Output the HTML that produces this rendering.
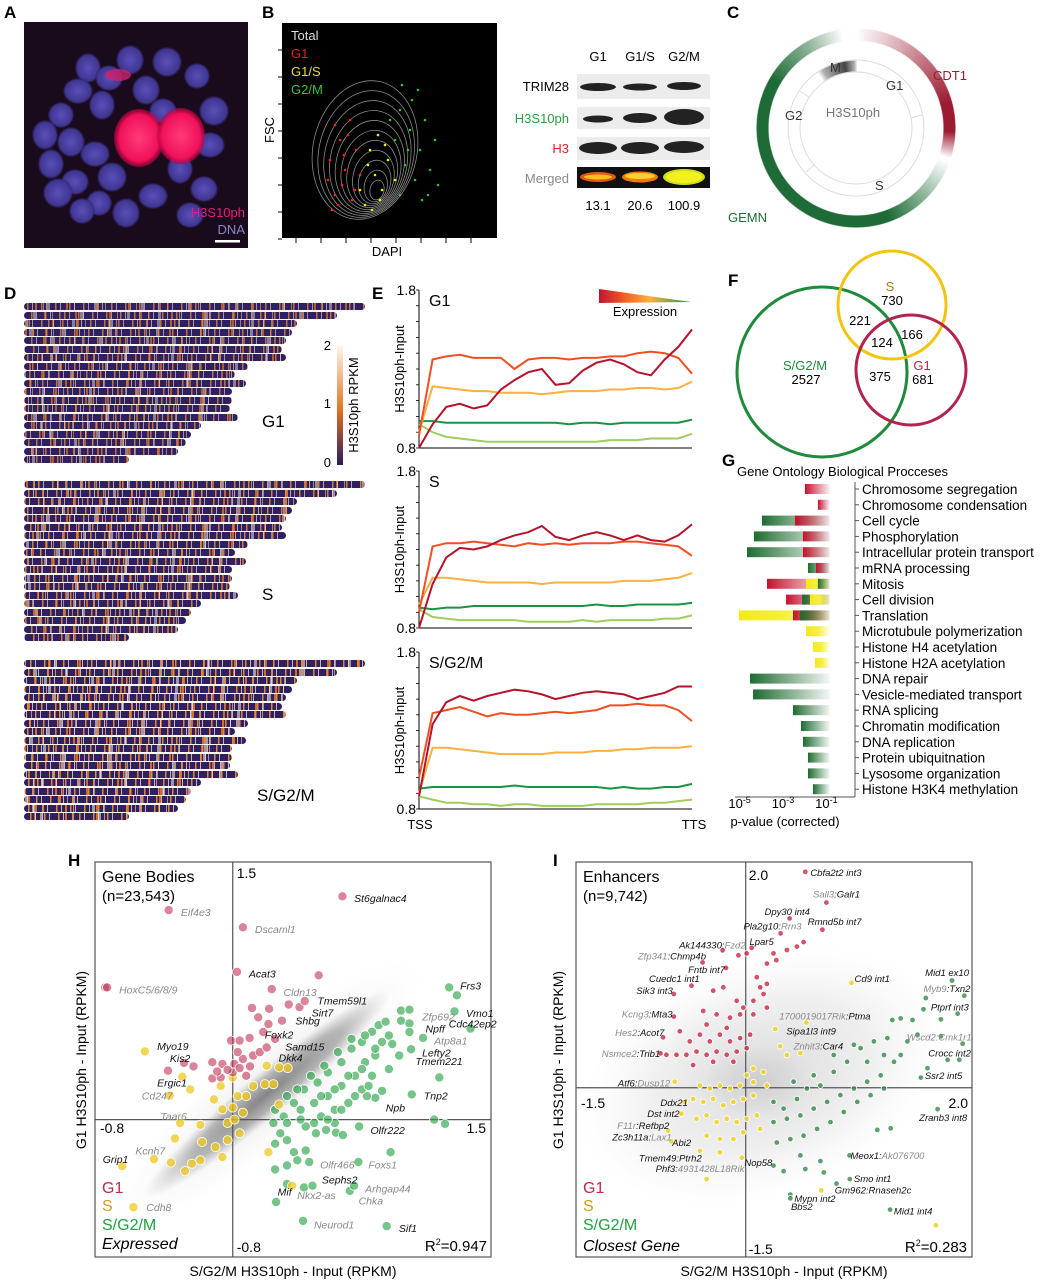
<!DOCTYPE html>
<html><head><meta charset="utf-8">
<style>
html,body{margin:0;padding:0;background:#fff;}
body{width:1055px;height:1280px;position:relative;overflow:hidden;font-family:"Liberation Sans",Arial,sans-serif;}
#main{position:absolute;left:0;top:0;}
.chr{position:absolute;height:7px;border-radius:3.5px;}
.ring{position:absolute;border-radius:50%;}
</style></head>
<body>
<div id="ring-c" class="ring" style="left:756px;top:28px;width:200px;height:200px;background:conic-gradient(from 0deg, rgba(255,255,255,0) 0deg, rgba(155,27,48,0.15) 12deg, rgba(155,27,48,0.6) 45deg, #9b1b30 75deg, #9b1b30 92deg, rgba(155,27,48,0) 108deg, rgba(30,107,55,0) 110deg, rgba(30,107,55,0.5) 135deg, #1e6b37 160deg, #1e6b37 300deg, rgba(30,107,55,0.5) 330deg, rgba(30,107,55,0) 352deg);-webkit-mask:radial-gradient(circle, transparent 87px, #000 88px, #000 99px, transparent 100px);mask:radial-gradient(circle, transparent 87px, #000 88px, #000 99px, transparent 100px);"></div>
<div id="ring-m" class="ring" style="left:788px;top:60px;width:136px;height:136px;background:conic-gradient(from -35deg, rgba(60,60,60,0) 0deg, rgba(60,60,60,0.4) 5deg, #444 25deg, rgba(60,60,60,0.3) 35deg, rgba(0,0,0,0) 36deg);-webkit-mask:radial-gradient(circle, transparent 56px, #000 57px, #000 67px, transparent 68px);mask:radial-gradient(circle, transparent 56px, #000 57px, #000 67px, transparent 68px);"></div>
<div id="dpanel"></div>
<svg id="main" width="1055" height="1280" xmlns="http://www.w3.org/2000/svg" font-family="Liberation Sans, Arial, sans-serif">
<defs>
 <radialGradient id="cloudH" cx="50%" cy="50%" r="50%"><stop offset="0" stop-color="#7a7a7a" stop-opacity="0.9"/><stop offset="0.6" stop-color="#8c8c8c" stop-opacity="0.6"/><stop offset="1" stop-color="#aaa" stop-opacity="0"/></radialGradient>
 <radialGradient id="cloudH2" cx="50%" cy="50%" r="50%"><stop offset="0" stop-color="#c4c4c4" stop-opacity="0.45"/><stop offset="1" stop-color="#e4e4e4" stop-opacity="0"/></radialGradient>
 <radialGradient id="cloudI" cx="50%" cy="50%" r="50%"><stop offset="0" stop-color="#c8c8c8" stop-opacity="0.7"/><stop offset="0.6" stop-color="#d8d8d8" stop-opacity="0.4"/><stop offset="1" stop-color="#eee" stop-opacity="0"/></radialGradient>
 <linearGradient id="gRed" x1="0" x2="1"><stop offset="0" stop-color="#c4122f"/><stop offset="1" stop-color="#c4122f" stop-opacity="0.05"/></linearGradient>
 <linearGradient id="gYel" x1="0" x2="1"><stop offset="0" stop-color="#f2ea1c"/><stop offset="0.5" stop-color="#f6ef40"/><stop offset="1" stop-color="#f6ef40" stop-opacity="0.1"/></linearGradient>
 <linearGradient id="gGrn" x1="0" x2="1"><stop offset="0" stop-color="#1e6b30"/><stop offset="1" stop-color="#1e6b30" stop-opacity="0.05"/></linearGradient>
 <linearGradient id="exprGrad" x1="0" x2="1"><stop offset="0" stop-color="#c4122f"/><stop offset="0.3" stop-color="#f26522"/><stop offset="0.55" stop-color="#fbb040"/><stop offset="1" stop-color="#1a9444"/></linearGradient>
 <linearGradient id="cbar" x1="0" x2="0" y1="1" y2="0"><stop offset="0" stop-color="#2a1a5e"/><stop offset="0.45" stop-color="#e0701e"/><stop offset="1" stop-color="#fff8f0"/></linearGradient>
 <radialGradient id="redBlob" cx="50%" cy="50%" r="50%"><stop offset="0" stop-color="#ff3c78"/><stop offset="0.8" stop-color="#f0105a"/><stop offset="1" stop-color="#c00040" stop-opacity="0.6"/></radialGradient>
 <radialGradient id="nuc" cx="50%" cy="50%" r="50%"><stop offset="0" stop-color="#5a4fb8"/><stop offset="0.85" stop-color="#3f3590"/><stop offset="1" stop-color="#2a2060" stop-opacity="0.3"/></radialGradient>
</defs>

<g font-weight="bold" font-size="17" fill="#000">
 <text x="4" y="18">A</text>
 <text x="262" y="18">B</text>
 <text x="727" y="18">C</text>
 <text x="4" y="299">D</text>
 <text x="372" y="299">E</text>
 <text x="728" y="286">F</text>
 <text x="722" y="466">G</text>
 <text x="68" y="866">H</text>
 <text x="553" y="866">I</text>
</g>

<g id="panelA">
 <rect x="24" y="22" width="224" height="226" fill="#1a0b1c"/>
 <g id="nuclei"></g>
 <ellipse cx="139" cy="138" rx="25" ry="29" fill="url(#redBlob)"/>
 <ellipse cx="181" cy="136" rx="24" ry="28" fill="url(#redBlob)"/>
 <ellipse cx="118" cy="75" rx="13" ry="6" fill="#d0206a" opacity="0.8"/>
 <text x="245" y="217" text-anchor="end" font-size="13" fill="#e0207a">H3S10ph</text>
 <text x="245" y="234" text-anchor="end" font-size="13" fill="#8a86c8">DNA</text>
 <rect x="215" y="240" width="25" height="2.5" fill="#fff"/>
</g>

<g id="panelB">
 <rect x="282" y="23" width="215" height="215" fill="#000"/>
 <g id="contours" fill="none" stroke="#8a8a8a" stroke-width="0.8"></g>
 <g id="flowPts"></g>
 <text x="291" y="40" font-size="13" fill="#ddd">Total</text>
 <text x="291" y="58" font-size="13" fill="#e02020">G1</text>
 <text x="291" y="76" font-size="13" fill="#e8e020">G1/S</text>
 <text x="291" y="94" font-size="13" fill="#3cc040">G2/M</text>
 <g id="bticks" stroke="#000" stroke-width="1"></g>
 <text x="274" y="130" font-size="13" transform="rotate(-90 274 130)" text-anchor="middle">FSC</text>
 <text x="387" y="256" font-size="13" text-anchor="middle">DAPI</text>
</g>

<g id="blot">
 <g font-size="13" text-anchor="middle"><text x="598" y="61">G1</text><text x="640" y="61">G1/S</text><text x="684" y="61">G2/M</text></g>
 <rect x="577" y="74" width="133" height="25" fill="#ececec"/>
 <rect x="577" y="107" width="133" height="22" fill="#ececec"/>
 <rect x="577" y="137" width="133" height="23" fill="#ececec"/>
 <rect x="577" y="167" width="133" height="21" fill="#111"/>
 <g fill="#222">
  <ellipse cx="598" cy="87" rx="18" ry="4"/><ellipse cx="640" cy="87" rx="17" ry="3.5"/><ellipse cx="684" cy="86" rx="17" ry="4"/>
  <ellipse cx="598" cy="119" rx="15" ry="3.5"/><ellipse cx="640" cy="118" rx="17" ry="5"/><ellipse cx="684" cy="117" rx="20" ry="8"/>
  <ellipse cx="598" cy="148" rx="19" ry="6"/><ellipse cx="640" cy="148" rx="19" ry="6"/><ellipse cx="684" cy="147" rx="20" ry="6"/>
 </g>
 <ellipse cx="598" cy="177" rx="18" ry="5" fill="#e55a10"/><ellipse cx="598" cy="177" rx="14" ry="2.5" fill="#f7c020"/>
 <ellipse cx="640" cy="177" rx="18" ry="5.5" fill="#f07a10"/><ellipse cx="640" cy="176" rx="15" ry="3" fill="#ffd030"/>
 <ellipse cx="684" cy="177" rx="21" ry="8" fill="#c8e020"/><ellipse cx="684" cy="177" rx="18" ry="6" fill="#f4f020"/>
 <g font-size="13" text-anchor="end">
  <text x="569" y="91">TRIM28</text>
  <text x="569" y="123" fill="#2aa040">H3S10ph</text>
  <text x="569" y="153" fill="#e02020">H3</text>
  <text x="569" y="183" fill="#888">Merged</text>
 </g>
 <g font-size="13" text-anchor="middle"><text x="598" y="210">13.1</text><text x="640" y="210">20.6</text><text x="684" y="210">100.9</text></g>
</g>

<g id="panelC">
 <circle cx="856" cy="128" r="68" fill="none" stroke="#ddd" stroke-width="1"/>
 <circle cx="856" cy="128" r="56" fill="none" stroke="#ddd" stroke-width="1"/>
 <g stroke="#ddd" stroke-width="1">
  <line x1="856" y1="60" x2="856" y2="72"/><line x1="922" y1="115" x2="911" y2="118"/>
  <line x1="806" y1="172" x2="815" y2="164"/><line x1="800" y1="91" x2="810" y2="98"/>
 </g>
 <g font-size="13" fill="#333">
  <text x="830" y="72">M</text><text x="886" y="90">G1</text><text x="785" y="120">G2</text><text x="875" y="190">S</text>
 </g>
 <text x="853" y="117" font-size="13" fill="#777" text-anchor="middle">H3S10ph</text>
 <text x="933" y="80" font-size="13" fill="#9b1b30">CDT1</text>
 <text x="728" y="222" font-size="13" fill="#1e6b37">GEMN</text>
</g>

<g id="dlegend">
 <rect x="337" y="345" width="6" height="120" fill="url(#cbar)"/>
 <g font-size="13" text-anchor="end"><text x="331" y="350">2</text><text x="331" y="408">1</text><text x="331" y="467">0</text></g>
 <text x="358" y="405" font-size="13" text-anchor="middle" transform="rotate(-90 358 405)">H3S10ph RPKM</text>
 <text x="262" y="427" font-size="17">G1</text>
 <text x="262" y="600" font-size="17">S</text>
 <text x="257" y="801" font-size="17">S/G2/M</text>
</g>

<g id="panelE"></g>
<g id="panelF">
 <circle cx="822" cy="372" r="85" fill="none" stroke="#1e8a3a" stroke-width="3"/>
 <circle cx="892" cy="305" r="54" fill="none" stroke="#f2c40f" stroke-width="3"/>
 <circle cx="911" cy="370" r="55" fill="none" stroke="#b2234d" stroke-width="3"/>
 <g font-size="13" text-anchor="middle">
  <text x="890" y="291" fill="#a87a18">S</text><text x="892" y="305">730</text>
  <text x="860" y="325">221</text><text x="882" y="347">124</text><text x="912" y="339">166</text>
  <text x="805" y="370" fill="#1e8a3a">S/G2/M</text><text x="806" y="384">2527</text>
  <text x="880" y="381">375</text>
  <text x="922" y="370" fill="#b2234d">G1</text><text x="923" y="384">681</text>
 </g>
</g>
<g id="panelG"></g>
<g id="panelH"></g>
<g id="panelI"></g>
</svg>

<script>
const eTicks = [0.8, 1.8];
const eCharts = ["G1", "S", "S/G2/M"];
const g1DarkRed = [0.8,0.95,1.06,1.08,1.05,1.07,1.17,1.23,1.28,1.30,1.20,1.21,1.29,1.34,1.36,1.33,1.28,1.26,1.36,1.44,1.55];
const g1Orange = [0.88,1.36,1.38,1.39,1.37,1.37,1.37,1.30,1.36,1.37,1.37,1.36,1.37,1.37,1.38,1.38,1.40,1.41,1.40,1.37,1.27];
const g1LtOrange = [0.9,1.19,1.18,1.17,1.16,1.16,1.15,1.15,1.15,1.14,1.15,1.16,1.16,1.16,1.17,1.17,1.18,1.18,1.17,1.18,1.22];
const g1Green = [0.97,0.97,0.96,0.96,0.96,0.96,0.96,0.96,0.96,0.96,0.96,0.95,0.96,0.96,0.95,0.96,0.96,0.96,0.96,0.96,0.98];
const g1LtGreen = [0.95,0.90,0.87,0.86,0.85,0.84,0.84,0.84,0.84,0.84,0.84,0.84,0.84,0.84,0.85,0.85,0.85,0.86,0.86,0.86,0.89];
const sDarkRed = [0.8,1.08,1.25,1.31,1.30,1.32,1.36,1.39,1.41,1.45,1.38,1.36,1.39,1.41,1.39,1.36,1.39,1.36,1.35,1.39,1.46];
const sOrange = [0.9,1.32,1.34,1.34,1.35,1.34,1.33,1.32,1.34,1.33,1.34,1.33,1.34,1.34,1.34,1.35,1.35,1.34,1.33,1.32,1.26];
const sLtOrange = [0.95,1.12,1.12,1.11,1.10,1.09,1.09,1.09,1.09,1.08,1.09,1.09,1.09,1.09,1.09,1.10,1.10,1.10,1.11,1.12,1.15];
const sGreen = [0.93,0.92,0.93,0.93,0.94,0.94,0.94,0.94,0.94,0.94,0.94,0.94,0.94,0.95,0.94,0.94,0.95,0.95,0.95,0.95,0.96];
const sLtGreen = [0.92,0.87,0.86,0.85,0.85,0.85,0.85,0.85,0.84,0.84,0.84,0.84,0.85,0.84,0.85,0.85,0.85,0.85,0.86,0.86,0.88];
const mDarkRed = [0.88,1.34,1.48,1.52,1.49,1.52,1.54,1.56,1.55,1.53,1.50,1.52,1.54,1.55,1.54,1.53,1.50,1.52,1.54,1.58,1.58];
const mOrange = [1.0,1.41,1.43,1.45,1.42,1.39,1.41,1.40,1.40,1.41,1.42,1.41,1.42,1.43,1.46,1.46,1.47,1.46,1.46,1.43,1.36];
const mLtOrange = [0.9,1.19,1.19,1.18,1.17,1.16,1.15,1.15,1.15,1.15,1.16,1.16,1.16,1.17,1.17,1.18,1.18,1.19,1.19,1.19,1.2];
const mGreen = [0.93,0.94,0.94,0.94,0.94,0.94,0.94,0.95,0.94,0.94,0.94,0.94,0.94,0.94,0.93,0.94,0.93,0.93,0.94,0.94,0.96];
const mLtGreen = [0.88,0.86,0.84,0.84,0.83,0.83,0.82,0.83,0.83,0.82,0.82,0.82,0.82,0.83,0.83,0.83,0.83,0.84,0.84,0.85,0.86];

const goTerms = ["Chromosome segregation","Chromosome condensation","Cell cycle","Phosphorylation","Intracellular protein transport","mRNA processing","Mitosis","Cell division","Translation","Microtubule polymerization","Histone H4 acetylation","Histone H2A acetylation","DNA repair","Vesicle-mediated transport","RNA splicing","Chromatin modification","DNA replication","Protein ubiquitnation","Lysosome organization","Histone H3K4 methylation"];
const goG1 = [-1.99,-1.39,-2.45,-2.08,-2.08,-1.48,-3.74,-2.86,-2.54,null,null,null,null,null,null,null,null,null,null,null];
const goS = [null,null,null,null,null,null,-1.94,-1.76,-5.03,-1.94,-1.62,-1.53,null,null,null,null,null,null,null,null];
const goSG2M = [null,null,-3.97,-4.34,-4.66,-1.85,-1.39,-2.12,-2.22,null,null,null,-4.52,-4.38,-2.54,-2.17,-2.08,-1.85,-1.85,-1.62];
const goTickLabels = ["-5","-3","-1"];

const hTicks = [-0.8, 1.5];
const hG1 = [[0.637,1.30],[-0.372,1.22],[0.059,1.12],[0.025,0.86],[0.499,0.84],[-0.741,0.77],[-0.73,0.77],[0.226,0.76],[0.325,0.67],[0.388,0.655],[0.418,0.69],[0.112,0.65],[0.211,0.645],[0.148,0.596],[0.207,0.556],[0.286,0.576],[0.177,0.51],[0.246,0.47],[-0.01,0.46],[0.04,0.46],[0.098,0.476],[-0.283,0.33],[-0.228,0.31],[-0.376,0.285],[-0.119,0.334],[-0.06,0.324],[0.009,0.324],[0.059,0.353],[0.118,0.373],[0.157,0.393],[-0.119,0.24],[-0.07,0.245],[0.0,0.275],[0.078,0.255],[0.029,0.393],[0.197,0.42],[-0.03,0.29],[0.04,0.3],[0.1,0.31],[-0.09,0.28]];
const hS = [[-0.51,0.397],[-0.293,0.25],[-0.366,0.14],[-0.247,0.176],[-0.642,-0.27],[-0.577,-0.51],[-0.458,-0.23],[-0.36,-0.25],[-0.306,-0.02],[-0.336,-0.11],[-0.277,-0.30],[-0.237,-0.257],[-0.188,-0.237],[-0.06,-0.218],[-0.178,-0.13],[-0.1,-0.16],[-0.03,-0.12],[0.04,-0.08],[-0.188,-0.03],[-0.109,0.117],[-0.06,0.06],[0.0,0.07],[0.059,0.04],[0.029,0.137],[0.078,0.137],[0.118,0.196],[0.187,0.206],[0.236,0.206],[0.197,0.314],[0.27,0.304],[0.319,0.30],[0.0,0.245],[-0.07,0.196],[0.27,0.088],[0.207,-0.19],[0.345,-0.385],[-0.03,-0.02],[0.01,0.0]];
const hSG2M = [[1.257,0.77],[1.302,0.724],[1.288,0.63],[1.381,0.53],[0.977,0.635],[1.026,0.64],[0.977,0.576],[1.026,0.56],[1.026,0.51],[1.105,0.476],[1.036,0.41],[0.927,0.44],[0.967,0.373],[1.2,0.245],[1.04,0.147],[0.867,0.167],[0.828,0.127],[0.779,0.137],[1.17,0.0],[1.233,-0.025],[0.917,-0.19],[0.73,-0.247],[0.734,-0.04],[0.592,-0.02],[0.542,-0.06],[0.6,-0.076],[0.64,-0.09],[0.483,-0.08],[0.424,-0.04],[0.355,-0.19],[0.424,-0.18],[0.315,-0.267],[0.375,-0.237],[0.444,-0.247],[0.246,-0.29],[0.315,-0.375],[0.414,-0.395],[0.463,-0.385],[0.68,-0.415],[0.705,-0.385],[0.252,-0.48],[0.408,-0.59],[0.894,-0.62],[0.246,-0.14],[0.276,-0.08],[0.315,-0.12],[0.236,-0.02],[0.246,0.057],[0.296,0.018],[0.355,0.097],[0.414,0.176],[0.493,0.216],[0.552,0.275],[0.631,0.334],[0.69,0.413],[0.75,0.452],[0.809,0.511],[0.848,0.55],[0.888,0.57],[0.394,0.057],[0.473,0.097],[0.552,0.137],[0.631,0.196],[0.71,0.255],[0.769,0.334],[0.828,0.373],[0.867,0.452],[0.513,0.018],[0.592,0.057],[0.671,0.097],[0.75,0.176],[0.809,0.255],[0.907,0.294],[0.315,-0.02],[0.394,0.0],[0.473,-0.02],[0.552,0.0],[0.631,0.057],[0.71,0.137],[0.789,0.196],[0.513,0.137],[0.592,0.176],[0.671,0.255],[0.75,0.294],[0.828,0.413],[0.907,0.49],[0.315,0.137],[0.375,0.176],[0.454,0.255],[0.532,0.314],[0.611,0.393],[0.69,0.47],[0.769,0.49]];
const hLabels = [["St6galnac4",0.67,1.29,0],["Eif4e3",-0.336,1.21,1],["Dscaml1",0.094,1.11,1],["Acat3",0.059,0.85,0],["HoxC5/6/8/9",-0.695,0.757,1],["Cldn13",0.26,0.744,1],["Tmem59l1",0.457,0.694,0],["Sirt7",0.424,0.625,0],["Shbg",0.329,0.576,0],["Foxk2",0.151,0.497,0],["Samd15",0.27,0.426,0],["Dkk4",0.232,0.363,0],["Myo19",-0.474,0.43,0],["Kis2",-0.4,0.36,0],["Ergic1",-0.474,0.216,0],["Cd247",-0.563,0.14,1],["Taar6",-0.455,0.02,1],["Kcnh7",-0.6,-0.18,1],["Grip1",-0.79,-0.23,0],["Cdh8",-0.537,-0.51,1],["Frs3",1.286,0.78,0],["Zfp692",1.065,0.6,1],["Vmo1",1.32,0.62,0],["Cdc42ep2",1.22,0.56,0],["Npff",1.085,0.53,0],["Atp8a1",1.135,0.46,1],["Lefty2",1.065,0.39,0],["Tmem221",1.026,0.34,0],["Tnp2",1.075,0.14,0],["Npb",0.854,0.07,0],["Olfr222",0.765,-0.06,0],["Olfr466",0.473,-0.26,1],["Foxs1",0.753,-0.26,1],["Sephs2",0.483,-0.35,0],["Arhgap44",0.734,-0.4,1],["Chka",0.696,-0.47,1],["Mif",0.226,-0.42,0],["Nkx2-as",0.34,-0.44,1],["Neurod1",0.437,-0.61,1],["Sif1",0.93,-0.63,0]];

const iTicks = [-1.5, 2.0];
const iG1 = [[0.527,1.913],[0.713,1.64],[0.388,1.5],[0.678,1.40],[0.308,1.367],[0.053,1.24],[-0.204,1.218],[0.009,1.19],[-0.065,1.173],[-0.381,1.11],[-0.174,1.062],[-0.479,0.904],[-0.636,0.83],[-0.636,0.63],[-0.73,0.447],[-0.754,0.304],[0.246,1.19],[0.27,1.13],[0.187,1.1],[0.364,1.22],[0.452,1.25],[0.512,1.29],[0.098,0.979],[0.187,0.92],[0.157,0.83],[0.068,0.77],[-0.021,0.71],[-0.08,0.77],[-0.198,0.89],[-0.287,0.86],[-0.376,0.68],[-0.257,0.65],[-0.139,0.62],[-0.05,0.65],[0.068,0.65],[0.187,0.71],[-0.583,0.5],[-0.494,0.41],[-0.405,0.47],[-0.317,0.41],[-0.228,0.47],[-0.139,0.41],[-0.05,0.44],[0.039,0.47],[-0.612,0.292],[-0.524,0.292],[-0.435,0.32],[-0.346,0.292],[-0.257,0.32],[-0.168,0.292],[-0.08,0.32],[0.009,0.35],[-0.701,0.292],[-0.465,0.2],[-0.287,0.23],[-0.109,0.23],[-0.346,0.56],[-0.168,0.53],[0.128,0.89]];
const iS = [[0.935,0.93],[0.26,0.52],[0.536,0.576],[0.305,0.367],[0.483,0.307],[0.364,0.29],[-0.627,0.053],[-0.538,-0.126],[-0.568,-0.23],[-0.686,-0.38],[-0.657,-0.475],[-0.405,-0.56],[-0.346,-0.81],[-0.035,-0.62],[0.666,-0.91],[1.68,-1.22],[-0.405,0.02],[-0.317,-0.007],[-0.228,0.02],[-0.139,-0.007],[-0.05,0.02],[-0.465,-0.1],[-0.376,-0.126],[-0.287,-0.1],[-0.198,-0.156],[-0.109,-0.126],[-0.021,-0.1],[0.068,-0.07],[-0.435,-0.275],[-0.346,-0.245],[-0.257,-0.305],[-0.168,-0.275],[-0.08,-0.305],[0.009,-0.275],[0.098,-0.245],[-0.346,-0.425],[-0.228,-0.455],[-0.109,-0.455],[-0.021,-0.395],[0.128,-0.365],[-0.228,-0.574],[0.068,0.17],[0.157,0.14],[0.009,0.11],[0.187,0.02],[0.068,0.05]];
const iSG2M = [[1.823,0.95],[1.932,0.815],[1.592,0.795],[1.571,0.695],[1.873,0.656],[1.725,0.606],[1.296,0.6],[1.37,0.614],[1.474,0.6],[1.725,0.456],[1.917,0.39],[1.888,0.247],[1.784,0.247],[1.548,0.09],[1.607,0.173],[1.696,-0.19],[1.281,-0.36],[1.163,-0.374],[0.917,-0.6],[0.92,-0.81],[0.802,-0.85],[1.276,-1.08],[0.394,-0.947],[0.394,-0.98],[0.246,-0.69],[0.335,-0.74],[0.527,-0.72],[0.69,-0.75],[0.483,-0.6],[0.66,-0.65],[0.246,-0.126],[0.335,-0.185],[0.453,-0.1],[0.541,-0.007],[0.66,0.02],[0.778,0.14],[0.896,0.23],[1.015,0.35],[1.133,0.41],[1.252,0.44],[0.246,-0.305],[0.364,-0.275],[0.483,-0.245],[0.601,-0.185],[0.719,-0.126],[0.837,-0.066],[0.956,-0.007],[1.074,0.053],[1.193,0.11],[1.311,0.23],[0.275,-0.485],[0.394,-0.455],[0.512,-0.425],[0.631,-0.365],[0.749,-0.305],[0.867,-0.215],[0.986,-0.126],[1.104,-0.066],[1.222,-0.007],[1.37,0.29],[0.423,0.053],[0.601,0.11],[0.778,0.29],[0.956,0.38],[1.074,0.23],[1.222,0.29],[1.429,0.41],[1.518,0.47]];
const iLabels = [[0.571,1.913,[["Cbfa2t2 int3",0]]],[0.595,1.72,[["Sall3",1],[":Galr1",0]]],[0.166,1.567,[["Dpy30 int4",0]]],[-0.02,1.436,[["Pla2g10:",0],["Rrn3",1]]],[0.548,1.477,[["Rmnd5b int7",0]]],[-0.589,1.27,[["Ak144330:",0],["Fzd2",1]]],[0.033,1.30,[["Lpar5",0]]],[-0.953,1.17,[["Zfp341",1],[":Chmp4b",0]]],[-0.509,1.053,[["Fntb int7",0]]],[-0.855,0.973,[["Cuedc1 int1",0]]],[-0.967,0.868,[["Sik3 int3",0]]],[-1.095,0.656,[["Kcng3",1],[":Mta3",0]]],[-1.154,0.495,[["Hes2",1],[":Acot7",0]]],[-1.272,0.307,[["Nsmce2",1],[":Trib1",0]]],[-1.13,0.047,[["Atf6:",0],["Dusp12",1]]],[-0.754,-0.126,[["Ddx21",0]]],[-0.87,-0.225,[["Dst int2",0]]],[-1.136,-0.33,[["F11r",1],[":Refbp2",0]]],[-1.18,-0.434,[["Zc3h11a:",0],["Lax1",1]]],[-0.65,-0.48,[["Abi2",0]]],[-0.944,-0.62,[["Tmem49:Ptrh2",0]]],[-0.796,-0.71,[["Phf3:",0],["4931428L18Rik",1]]],[-0.012,-0.66,[["Nop58",0]]],[0.962,0.97,[["Cd9 int1",0]]],[0.296,0.64,[["1700019017Rik",1],[":Ptma",0]]],[0.358,0.507,[["Sipa1l3 int9",0]]],[0.423,0.376,[["Znhit3",1],[":Car4",0]]],[1.586,1.024,[["Mid1 ex10",0]]],[1.571,0.883,[["Myb9",1],[":Txn2",0]]],[1.636,0.72,[["Ptprf int3",0]]],[1.423,0.456,[["Wscd2:Cmk1r1",1]]],[1.613,0.313,[["Crocc int2",0]]],[1.583,0.113,[["Ssr2 int5",0]]],[1.533,-0.26,[["Zranb3 int8",0]]],[0.926,-0.595,[["Meox1:",0],["Ak076700",1]]],[0.956,-0.80,[["Smo int1",0]]],[0.787,-0.90,[["Gm962:Rnaseh2c",0]]],[0.43,-0.977,[["Mypn int2",0]]],[0.40,-1.05,[["Bbs2",0]]],[1.31,-1.09,[["Mid1 int4",0]]]];

const NS = "http://www.w3.org/2000/svg";
function mk(tag, attrs, parent){ const e=document.createElementNS(NS,tag); for(const k in attrs) e.setAttribute(k,attrs[k]); if(parent) parent.appendChild(e); return e; }
function txt(parent, x, y, s, attrs){ const t=mk("text", Object.assign({x:x,y:y},attrs||{}), parent); t.textContent=s; return t; }

(function(){
 const g=document.getElementById("nuclei");
 const n=[[88,68],[109,78],[167,62],[197,76],[146,90],[78,91],[102,105],[163,111],[214,111],[61,115],[71,142],[95,154],[51,164],[75,182],[112,177],[99,203],[126,213],[153,196],[180,169],[204,189],[58,193],[82,211],[130,60],[210,145],[45,135],[190,215]];
 n.forEach((c,i)=>{ mk("ellipse",{cx:c[0],cy:c[1],rx:13+(i%3),ry:15-(i%2)*2,fill:"url(#nuc)"},g); });
})();

(function(){
 const g=document.getElementById("contours");
 for(let k=0;k<11;k++){ const cx=365+k*1.2, cy=150+k*4; mk("ellipse",{cx:cx,cy:cy,rx:52-k*4.5,ry:70-k*6,transform:"rotate(12 "+cx+" "+cy+")"},g); }
 const p=document.getElementById("flowPts");
 const red=[[340,140],[345,170],[335,195],[350,120],[330,160],[356,150],[342,185],[338,205],[352,200],[348,135],[328,180],[360,175],[335,125],[344,155],[332,210],[355,190]];
 const yel=[[370,150],[375,175],[382,190],[365,205],[388,160],[378,135],[360,190],[395,180],[372,210],[385,145],[368,165],[380,200]];
 const grn=[[400,110],[410,130],[420,150],[405,165],[415,180],[425,120],[395,140],[430,170],[412,100],[400,195],[422,200],[435,140],[408,150],[390,120],[418,90],[428,195],[402,85],[438,185]];
 red.forEach(c=>mk("circle",{cx:c[0],cy:c[1],r:1.3,fill:"#ff2020"},p));
 yel.forEach(c=>mk("circle",{cx:c[0],cy:c[1],r:1.3,fill:"#f0f020"},p));
 grn.forEach(c=>mk("circle",{cx:c[0],cy:c[1],r:1.3,fill:"#30c030"},p));
 const t=document.getElementById("bticks");
 for(let i=0;i<8;i++){ mk("line",{x1:278,x2:282,y1:50+i*27,y2:50+i*27},t); mk("line",{x1:296+i*25,x2:296+i*25,y1:238,y2:243},t); }
})();

(function(){
 const d=document.getElementById("dpanel");
 const widths=[341,313,273,268,262,258,262,224,211,222,208,208,206,214,177,167,162,154,105];
 const tops=[303,481,660];
 tops.forEach((t,gi)=>{
  widths.forEach((w,i)=>{
   const b=document.createElement("div");
   b.className="chr";
   
   
   const a=[0.75,0.85,0.95][gi];
   const off=(i*37+gi*11)%53;
   b.style.left="24px"; b.style.top=(t+i*8.5)+"px"; b.style.width=w+"px";
   b.style.background=
    "repeating-linear-gradient(90deg, rgba(0,0,0,0) 0 3px, rgba(238,140,50,"+a+") 3px 4.5px, rgba(0,0,0,0) 4.5px 8px, rgba(255,225,190,"+(a*0.8)+") 8px 9px, rgba(0,0,0,0) 9px 14px),"+
    "repeating-linear-gradient(90deg, rgba(0,0,0,0) 0 11px, rgba(220,110,40,"+a+") 11px 13px, rgba(0,0,0,0) 13px 19px, rgba(250,200,150,"+(a*0.7)+") 19px 20px, rgba(0,0,0,0) 20px 31px),"+
    "repeating-linear-gradient(90deg, rgba(0,0,0,0) 0 23px, rgba(255,240,220,"+(a*0.6)+") 23px 26px, rgba(0,0,0,0) 26px 47px),#2e2062";
   b.style.backgroundPosition=off+"px 0, "+(off*2)+"px 0, "+(off*3)+"px 0, 0 0";
   d.appendChild(b);
  });
 });
})();

(function(){
 const g=document.getElementById("panelE");
 const X0=419, X1=692;
 const tops=[290,471,652], bots=[448,628,809];
 const series=[[g1DarkRed,g1Orange,g1LtOrange,g1Green,g1LtGreen],[sDarkRed,sOrange,sLtOrange,sGreen,sLtGreen],[mDarkRed,mOrange,mLtOrange,mGreen,mLtGreen]];
 const colors=["#b5122b","#f04e23","#fbb040","#1a9444","#9fcd5f"];
 const order=[4,3,2,1,0];
 eCharts.forEach((name,ci)=>{
  const top=tops[ci], bot=bots[ci];
  const ys=v=>bot-(v-eTicks[0])/(eTicks[1]-eTicks[0])*(bot-top);
  const xs=(i,n)=>X0+i/(n-1)*(X1-X0);
  mk("line",{x1:X0,y1:top,x2:X0,y2:bot,stroke:"#000","stroke-width":1},g);
  mk("line",{x1:X0,y1:bot,x2:X1,y2:bot,stroke:"#000","stroke-width":1},g);
  for(let k=0;k<=10;k++){ const v=eTicks[0]+k*0.1; mk("line",{x1:X0-3,x2:X0,y1:ys(v),y2:ys(v),stroke:"#000","stroke-width":0.8},g); }
  eTicks.forEach(v=>txt(g,X0-3,ys(v)+5,String(v),{"font-size":14,"text-anchor":"end"}));
  txt(g,X0+10,top+16,name,{"font-size":16});
  const ym=(top+bot)/2;
  txt(g,404,ym,"H3S10ph-Input",{"font-size":13,"text-anchor":"middle",transform:"rotate(-90 404 "+ym+")"});
  order.forEach(si=>{
   const arr=series[ci][si];
   const pts=arr.map((v,i)=>xs(i,arr.length).toFixed(1)+","+ys(v).toFixed(1)).join(" ");
   const pl=mk("polyline",{points:pts,fill:"none",stroke:colors[si],"stroke-width":2},g);
   
   
  });
 });
 txt(g,420,829,"TSS",{"font-size":13,"text-anchor":"middle"});
 txt(g,694,829,"TTS",{"font-size":13,"text-anchor":"middle"});
 mk("polygon",{points:"599,289 691,302 599,303",fill:"url(#exprGrad)"},g);
 txt(g,645,316,"Expression",{"font-size":13,"text-anchor":"middle"});
})();

(function(){
 const g=document.getElementById("panelG");
 const xs=lp=>783+(lp+3)*21.7;
 const rowY=i=>489+i*15.8;
 const xEnd=xs(-0.85);
 txt(g,737,476,"Gene Ontology Biological Procceses",{"font-size":13});
 mk("line",{x1:855,y1:482,x2:855,y2:797,stroke:"#555","stroke-width":1},g);
 goTerms.forEach((t,i)=>{
  mk("line",{x1:855,x2:859,y1:rowY(i),y2:rowY(i),stroke:"#555"},g);
  txt(g,862,rowY(i)+5,t,{"font-size":13.5});
  const bars=[];
  if(goSG2M[i]!==null) bars.push([goSG2M[i],"url(#gGrn)"]);
  if(goS[i]!==null) bars.push([goS[i],"url(#gYel)"]);
  if(goG1[i]!==null) bars.push([goG1[i],"url(#gRed)"]);
  bars.sort((a,b)=>a[0]-b[0]);
  bars.forEach(b=>{
   const r=mk("rect",{x:xs(b[0]),y:rowY(i)-5,width:xEnd-xs(b[0]),height:10,fill:b[1]},g);
   
   
  });
 });
 mk("line",{x1:735,y1:797,x2:855,y2:797,stroke:"#555"},g);
 goTickLabels.forEach(s=>{ const x=xs(Number(s));
  const t=mk("text",{x:x,y:808,"font-size":13,"text-anchor":"middle"},g);
  t.textContent="10"; const sp=mk("tspan",{dy:-5,"font-size":9},t); sp.textContent=s; });
 txt(g,785,826,"p-value (corrected)",{"font-size":13,"text-anchor":"middle"});
})();

function scatter(gid, box, dom, cloud, series, r){
 const g=document.getElementById(gid);
 const sx=v=>box.x0+(v-dom.x0)/(dom.x1-dom.x0)*(box.x1-box.x0);
 const sy=v=>box.y1-(v-dom.y0)/(dom.y1-dom.y0)*(box.y1-box.y0);
 mk("rect",{x:box.x0,y:box.y0,width:box.x1-box.x0,height:box.y1-box.y0,fill:"#fff",stroke:"#555","stroke-width":1.2},g);
 cloud(g,sx,sy);
 mk("line",{x1:sx(0),y1:box.y0,x2:sx(0),y2:box.y1,stroke:"#555","stroke-width":1.2},g);
 mk("line",{x1:box.x0,y1:sy(0),x2:box.x1,y2:sy(0),stroke:"#555","stroke-width":1.2},g);
 series.forEach(s=>{ s.data.forEach(p=>{
  const c=mk("circle",{cx:sx(p[0]).toFixed(1),cy:sy(p[1]).toFixed(1),r:r,fill:s.fill,stroke:"#fff","stroke-width":0.8},g);
  
  
 }); });
 return {g,sx,sy};
}

(function(){
 const box={x0:95,x1:491,y0:862,y1:1257};
 const dom={x0:hTicks[0],x1:hTicks[1],y0:hTicks[0],y1:hTicks[1]};
 const o=scatter("panelH",box,dom,(g,sx,sy)=>{
  const cx=sx(0.2), cy=sy(0.15);
  mk("ellipse",{cx:cx,cy:cy,rx:200,ry:50,fill:"url(#cloudH2)",transform:"rotate(-40 "+cx+" "+cy+")"},g);
  mk("ellipse",{cx:cx,cy:cy,rx:160,ry:22,fill:"url(#cloudH)",transform:"rotate(-40 "+cx+" "+cy+")"},g);
 },[{data:hSG2M,fill:"rgba(45,165,75,0.65)",name:"sg2m-point"},{data:hS,fill:"rgba(240,200,30,0.75)",name:"s-point"},{data:hG1,fill:"rgba(192,50,85,0.6)",name:"g1-point"}],4.6);
 const g=o.g, sx=o.sx, sy=o.sy;
 hLabels.forEach(l=>txt(g,sx(l[1])+6,sy(l[2])+4,l[0],{"font-size":10.5,"font-style":"italic",fill:l[3]?"#8a8a8a":"#111"}));
 txt(g,102,882,"Gene Bodies",{"font-size":16}); txt(g,102,901,"(n=23,543)",{"font-size":15});
 txt(g,sx(0)+4,878,"1.5",{"font-size":14}); txt(g,sx(0)+4,1252,"-0.8",{"font-size":14});
 txt(g,100,1133,"-0.8",{"font-size":14}); txt(g,486,1133,"1.5",{"font-size":14,"text-anchor":"end"});
 txt(g,102,1193,"G1",{"font-size":16,fill:"#c0284a"}); txt(g,102,1211,"S",{"font-size":16,fill:"#c8a020"});
 txt(g,102,1230,"S/G2/M",{"font-size":16,fill:"#20a040"}); txt(g,102,1249,"Expressed",{"font-size":16,"font-style":"italic"});
 const rt=mk("text",{x:487,y:1251,"font-size":15,"text-anchor":"end"},g); rt.appendChild(document.createTextNode("R"));
 const sup=mk("tspan",{dy:-6,"font-size":9},rt); sup.textContent="2"; const rest=mk("tspan",{dy:6},rt); rest.textContent="=0.947";
 txt(g,293,1276,"S/G2/M H3S10ph - Input (RPKM)",{"font-size":14,"text-anchor":"middle"});
 txt(g,86,1060,"G1 H3S10ph - Input (RPKM)",{"font-size":14,"text-anchor":"middle",transform:"rotate(-90 86 1060)"});
})();

(function(){
 const box={x0:576,x1:972,y0:862,y1:1257};
 const dom={x0:iTicks[0],x1:iTicks[1],y0:iTicks[0],y1:iTicks[1]};
 const o=scatter("panelI",box,dom,(g,sx,sy)=>{
  const cx=sx(0.15), cy=sy(0.1);
  mk("ellipse",{cx:cx,cy:cy,rx:190,ry:120,fill:"url(#cloudI)",transform:"rotate(-20 "+cx+" "+cy+")"},g);
  mk("ellipse",{cx:sx(0.1),cy:sy(0.05),rx:70,ry:45,fill:"url(#cloudI)"},g);
 },[{data:iSG2M,fill:"rgba(40,130,60,0.75)",name:"sg2m-point"},{data:iS,fill:"rgba(240,210,30,0.85)",name:"s-point"},{data:iG1,fill:"rgba(200,40,70,0.8)",name:"g1-point"}],2.8);
 const g=o.g, sx=o.sx, sy=o.sy;
 iLabels.forEach(l=>{
  const t=mk("text",{x:sx(l[0]),y:sy(l[1])+4,"font-size":9.5,"font-style":"italic"},g);
  l[2].forEach(part=>{ const sp=mk("tspan",{fill:part[1]?"#8a8a8a":"#111"},t); sp.textContent=part[0]; });
 });
 txt(g,583,882,"Enhancers",{"font-size":16}); txt(g,583,901,"(n=9,742)",{"font-size":15});
 txt(g,sx(0)+3,880,"2.0",{"font-size":14}); txt(g,sx(0)+3,1254,"-1.5",{"font-size":14});
 txt(g,581,1108,"-1.5",{"font-size":14}); txt(g,968,1108,"2.0",{"font-size":14,"text-anchor":"end"});
 txt(g,583,1193,"G1",{"font-size":16,fill:"#c0284a"}); txt(g,583,1211,"S",{"font-size":16,fill:"#c8a020"});
 txt(g,583,1230,"S/G2/M",{"font-size":16,fill:"#20a040"}); txt(g,583,1251,"Closest Gene",{"font-size":16,"font-style":"italic"});
 const rt=mk("text",{x:967,y:1252,"font-size":15,"text-anchor":"end"},g); rt.appendChild(document.createTextNode("R"));
 const sup=mk("tspan",{dy:-6,"font-size":9},rt); sup.textContent="2"; const rest=mk("tspan",{dy:6},rt); rest.textContent="=0.283";
 txt(g,784,1276,"S/G2/M H3S10ph - Input (RPKM)",{"font-size":14,"text-anchor":"middle"});
 txt(g,563,1060,"G1 H3S10ph - Input (RPKM)",{"font-size":14,"text-anchor":"middle",transform:"rotate(-90 563 1060)"});
})();
</script>
</body></html>
